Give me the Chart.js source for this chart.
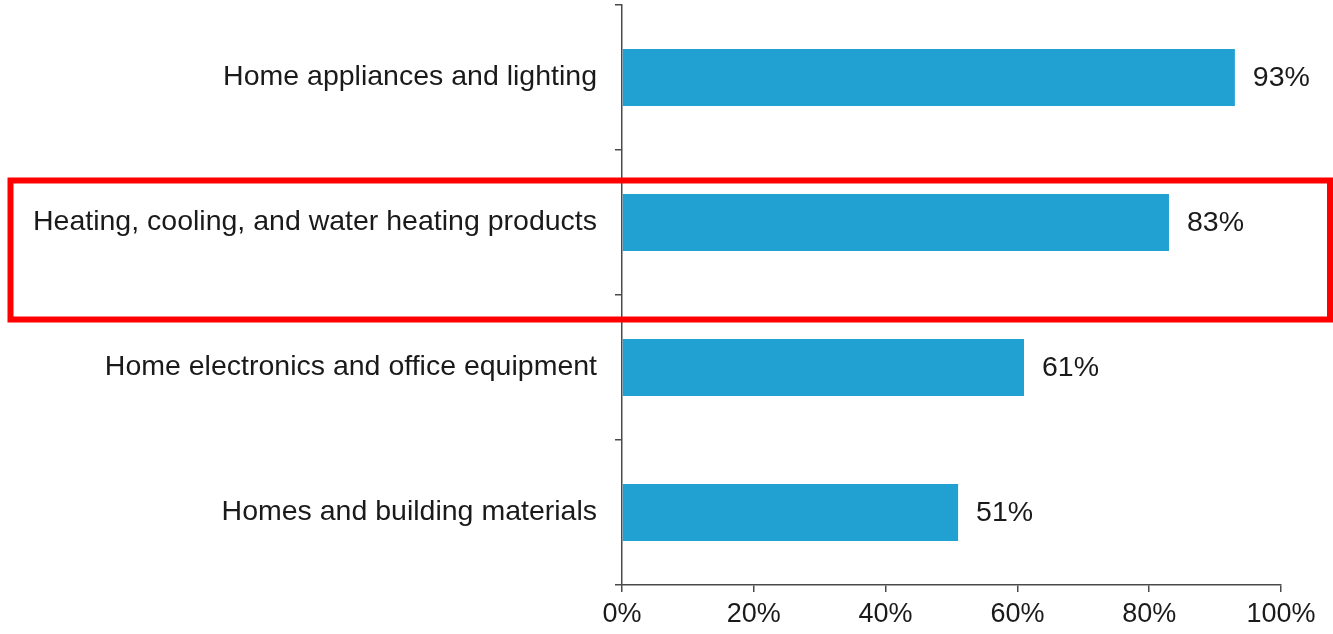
<!DOCTYPE html>
<html>
<head>
<meta charset="utf-8">
<script src="https://cdn.jsdelivr.net/npm/chart.js@4/dist/chart.umd.min.js"></script>
<style>
html,body{margin:0;padding:0;background:#fff;}
#wrap{width:1333px;height:634px;position:relative;}
</style>
</head>
<body>
<div id="wrap"><canvas id="c" width="1333" height="634"></canvas></div>
<script>
const categories = [
  "Home appliances and lighting",
  "Heating, cooling, and water heating products",
  "Home electronics and office equipment",
  "Homes and building materials"
];
const shares = [93, 83, 61, 51];
const xTicks = [0, 20, 40, 60, 80, 100];
const highlightIndex = 1;

const FONT = "'Liberation Sans', Arial, sans-serif";
const TEXT = "#1a1a1a";
const AXIS = "#4a4a4a";

const valueLabels = {
  id: 'valueLabels',
  afterDatasetsDraw(chart) {
    const ctx = chart.ctx;
    const meta = chart.getDatasetMeta(0);
    ctx.save();
    ctx.font = "28.5px " + FONT;
    ctx.fillStyle = TEXT;
    ctx.textAlign = 'left';
    ctx.textBaseline = 'middle';
    meta.data.forEach((bar, i) => {
      ctx.fillText(shares[i] + '%', bar.x + 18, bar.y + 1);
    });
    ctx.restore();
  }
};

const highlight = {
  id: 'highlight',
  afterDraw(chart) {
    const y = chart.scales.y;
    const ctx = chart.ctx;
    const top = y.getPixelForValue(highlightIndex) - 42;
    const bottom = y.getPixelForValue(highlightIndex) + 97;
    ctx.save();
    ctx.strokeStyle = '#ff0000';
    ctx.lineWidth = 6;
    ctx.strokeRect(10.5, top, 1319.5, bottom - top);
    ctx.restore();
  }
};

new Chart(document.getElementById('c'), {
  type: 'bar',
  data: {
    labels: categories,
    datasets: [{
      data: shares,
      backgroundColor: '#21a0d2',
      borderWidth: 0,
      barPercentage: 0.393,
      categoryPercentage: 1.0
    }]
  },
  options: {
    indexAxis: 'y',
    responsive: false,
    animation: false,
    devicePixelRatio: 1,
    layout: { padding: { top: 5, right: 52, left: 0, bottom: 0 } },
    plugins: { legend: { display: false }, tooltip: { enabled: false } },
    scales: {
      x: {
        min: 0, max: 100,
        afterBuildTicks(scale) { scale.ticks = xTicks.map(v => ({ value: v })); },
        afterFit(scale) { scale.height = 49; scale.paddingLeft = 0; scale.paddingRight = 0; },
        ticks: {
          callback: v => v + '%',
          font: { family: FONT, size: 27 },
          color: TEXT,
          padding: 6,
          maxRotation: 0
        },
        grid: { drawOnChartArea: false, tickLength: 7, color: AXIS, lineWidth: 1.5 },
        border: { color: AXIS, width: 1.5 }
      },
      y: {
        afterFit(scale) { scale.width = 622; scale.paddingTop = 0; scale.paddingBottom = 0; },
        ticks: {
          font: { family: FONT, size: 28.5 },
          color: TEXT,
          padding: 18
        },
        grid: { offset: true, drawOnChartArea: false, tickLength: 7, color: AXIS, lineWidth: 1.5 },
        border: { color: AXIS, width: 1.5 }
      }
    }
  },
  plugins: [valueLabels, highlight]
});
</script>
</body>
</html>
